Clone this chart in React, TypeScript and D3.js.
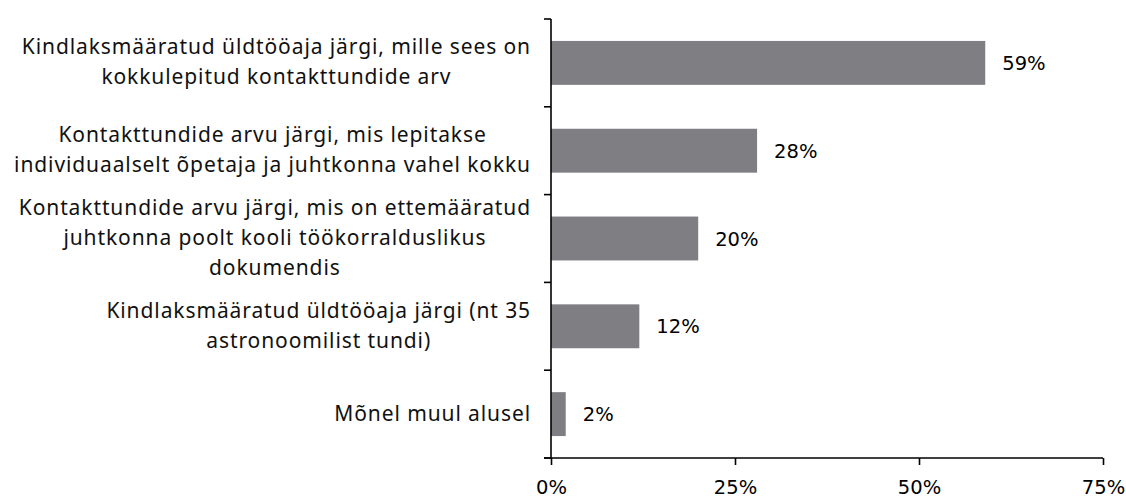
import * as d3 from "d3";
import React, { useEffect, useRef } from "react";

const categories: string[][] = [
  ["Kindlaksmääratud üldtööaja järgi, mille sees on", "kokkulepitud kontakttundide arv"],
  ["Kontakttundide arvu järgi, mis lepitakse", "individuaalselt õpetaja ja juhtkonna vahel kokku"],
  ["Kontakttundide arvu järgi, mis on ettemääratud", "juhtkonna poolt kooli töökorralduslikus", "dokumendis"],
  ["Kindlaksmääratud üldtööaja järgi (nt 35", "astronoomilist tundi)"],
  ["Mõnel muul alusel"],
];
const values: number[] = [59, 28, 20, 12, 2];
const ticks: number[] = [0, 25, 50, 75];

function App() {
  const ref = useRef<SVGSVGElement>(null);

  useEffect(() => {
    document.body.style.margin = "0";
    const width = 1126;
    const height = 498;
    const margin = { top: 19, left: 551, bottom: 40, right: 23 };
    const iwidth = width - margin.left - margin.right;
    const iheight = height - margin.top - margin.bottom;

    const svg = d3.select(ref.current);
    svg.selectAll("*").remove();
    svg.attr("width", width).attr("height", height);

    const graph = svg.append("g").attr("transform", `translate(${margin.left}, ${margin.top})`);

    const x = d3.scaleLinear().domain([0, 75]).range([0, iwidth]);
    const y = d3.scaleBand<number>()
      .domain(values.map((_, i) => i))
      .range([0, iheight])
      .paddingInner(0.5)
      .paddingOuter(0.25);

    graph.selectAll("rect.bar").data(values).enter().append("rect")
      .attr("class", "bar")
      .attr("fill", "#7f7e83")
      .attr("x", x(0))
      .attr("y", (_, i) => y(i)!)
      .attr("height", y.bandwidth())
      .attr("width", d => x(d));

    graph.selectAll("text.val").data(values).enter().append("text")
      .attr("class", "val")
      .attr("x", d => x(d) + 17)
      .attr("y", (_, i) => y(i)! + y.bandwidth() / 2)
      .attr("dy", "0.36em")
      .attr("font-family", "DejaVu Sans")
      .attr("font-size", 19.5)
      .attr("fill", "#000")
      .text(d => d + "%");

    // x axis
    const xAxis = graph.append("g")
      .attr("transform", `translate(0, ${iheight})`)
      .call(d3.axisBottom(x).tickValues(ticks).tickSize(7).tickPadding(15).tickFormat(d => d + "%"));
    xAxis.select(".domain").attr("stroke", "#000").attr("stroke-width", 1.6).attr("d", `M-7,0H${iwidth}`);
    xAxis.selectAll(".tick line").attr("stroke", "#000").attr("stroke-width", 1.6);
    xAxis.selectAll(".tick text")
      .attr("font-family", "DejaVu Sans")
      .attr("font-size", 19.5)
      .attr("fill", "#000");

    // y axis: line plus ticks at band edges
    const edges = d3.range(values.length + 1).map(i => (iheight / values.length) * i);
    graph.append("line")
      .attr("x1", 0).attr("x2", 0).attr("y1", 0).attr("y2", iheight)
      .attr("stroke", "#000").attr("stroke-width", 1.6);
    graph.selectAll("line.ytick").data(edges).enter().append("line")
      .attr("class", "ytick")
      .attr("x1", -7).attr("x2", 0)
      .attr("y1", d => d).attr("y2", d => d)
      .attr("stroke", "#000").attr("stroke-width", 1.6);

    // category labels: lines centred in a block right-aligned to the axis
    const lineH = 30;
    const labels = graph.selectAll("g.cat").data(categories).enter().append("g").attr("class", "cat");
    labels.each(function (lines, i) {
      const g = d3.select(this);
      const cy = y(i)! + y.bandwidth() / 2;
      const texts = lines.map((l, j) =>
        g.append("text")
          .attr("font-family", "Noto Sans")
          .attr("font-size", 21)
          .attr("letter-spacing", 0.9)
          .attr("fill", "#111")
          .attr("text-anchor", "middle")
          .attr("y", cy + (j - (lines.length - 1) / 2) * lineH + 6.5)
          .text(l)
      );
      const w = d3.max(texts, t => (t.node() as SVGTextElement).getComputedTextLength()) || 0;
      texts.forEach(t => t.attr("x", -20 - w / 2));
    });
  }, []);

  return (
    <div>
      <svg ref={ref}></svg>
    </div>
  );
}

export default App;
